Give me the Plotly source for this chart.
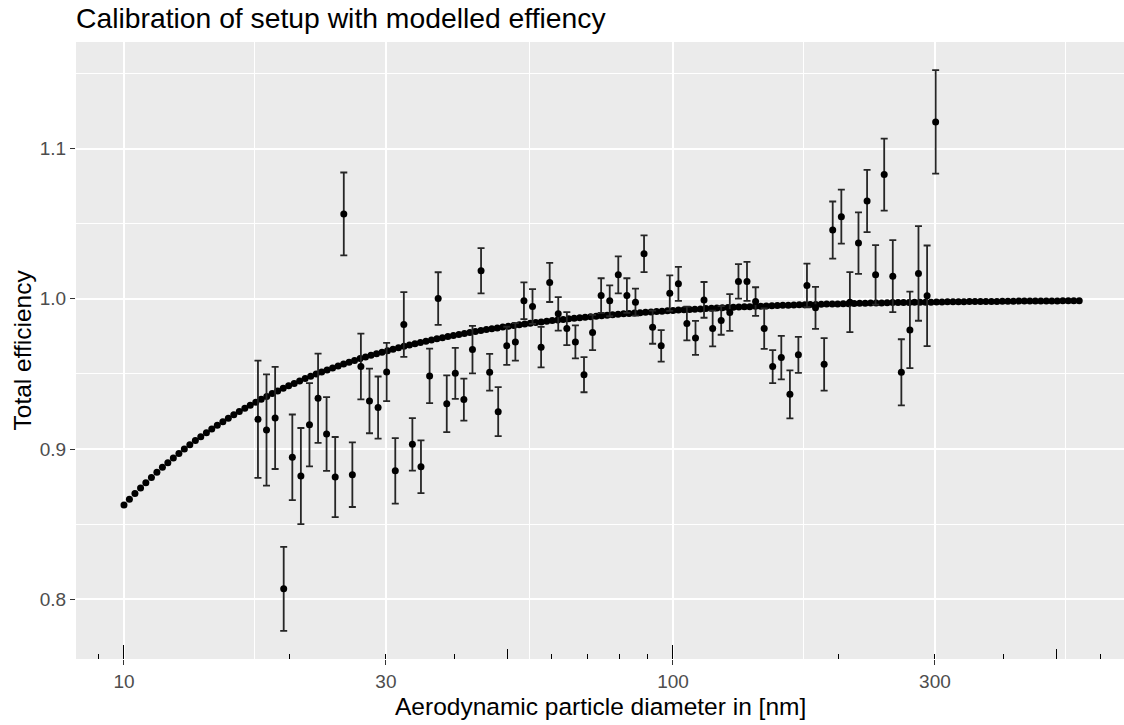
import plotly.graph_objects as go

# ---------------- data ----------------
meas_d = [17.54, 18.18, 18.85, 19.54, 20.26, 21.0, 21.77, 22.57, 23.39, 24.25,
          25.14, 26.06, 27.01, 28.0, 29.03, 30.09, 31.2, 32.34, 33.52, 34.75,
          36.03, 37.35, 38.72, 40.13, 41.6, 43.13, 44.71, 46.35, 48.04, 49.8,
          51.63, 53.52, 55.48, 57.51, 59.62, 61.8, 64.07, 66.41, 68.85, 71.37,
          73.98, 76.69, 79.5, 82.42, 85.44, 88.57, 91.81, 95.17, 98.66, 102.3,
          106.0, 109.9, 113.9, 118.1, 122.4, 126.9, 131.6, 136.4, 141.4, 146.6,
          151.9, 157.5, 163.3, 169.2, 175.4, 181.8, 188.5, 195.4, 202.6, 210.0,
          217.7, 225.7, 233.9, 242.5, 251.4, 260.6, 270.1, 280.0, 290.3, 300.9]

meas_eff = [0.9198, 0.9127, 0.9207, 0.8069, 0.8945, 0.8820, 0.9162, 0.9338, 0.9100, 0.8813,
            1.0565, 0.8829, 0.9549, 0.9320, 0.9276, 0.9513, 0.8855, 0.9829, 0.9031, 0.8882,
            0.9487, 1.0002, 0.9302, 0.9504, 0.9329, 0.9662, 1.0187, 0.9511, 0.9249, 0.9687,
            0.9713, 0.9987, 0.9949, 0.9678, 1.0109, 0.9900, 0.9802, 0.9713, 0.9495, 0.9776,
            1.0022, 0.9987, 1.0160, 1.0022, 0.9978, 1.0300, 0.9811, 0.9687, 1.0038, 1.0100,
            0.9836, 0.9740, 0.9993, 0.9802, 0.9856, 0.9909, 1.0116, 1.0116, 0.9982, 0.9802,
            0.9549, 0.9609, 0.9364, 0.9627, 1.0089, 0.9940, 0.9564, 1.0458, 1.0547, 0.9978,
            1.0371, 1.0651, 1.0160, 1.0827, 1.0151, 0.9511, 0.9793, 1.0169, 1.0020, 1.1178]

meas_err = [0.039, 0.037, 0.034, 0.028, 0.0285, 0.032, 0.0277, 0.0297, 0.0246, 0.0267,
            0.0276, 0.0215, 0.0219, 0.0215, 0.0207, 0.0194, 0.0218, 0.0216, 0.0175, 0.0176,
            0.0181, 0.0175, 0.0189, 0.017, 0.014, 0.0158, 0.015, 0.0122, 0.0163, 0.0127,
            0.0125, 0.0122, 0.0116, 0.0135, 0.013, 0.0112, 0.011, 0.011, 0.0117, 0.0117,
            0.0115, 0.0103, 0.0123, 0.0115, 0.009, 0.0122, 0.011, 0.0105, 0.0118, 0.0113,
            0.0112, 0.0113, 0.0119, 0.0119, 0.0095, 0.0122, 0.0115, 0.013, 0.0095, 0.0135,
            0.011, 0.0145, 0.016, 0.012, 0.0145, 0.014, 0.0175, 0.019, 0.018, 0.02,
            0.0205, 0.0207, 0.0198, 0.024, 0.024, 0.022, 0.0255, 0.0315, 0.0335, 0.0345]

model_d = [10.0, 10.23, 10.47, 10.72, 10.96, 11.22, 11.48, 11.75, 12.02, 12.3,
           12.59, 12.88, 13.18, 13.49, 13.8, 14.13, 14.45, 14.79, 15.14, 15.49,
           15.85, 16.22, 16.6, 16.98, 17.38, 17.78, 18.2, 18.62, 19.05, 19.5,
           19.95, 20.42, 20.89, 21.38, 21.88, 22.39, 22.91, 23.44, 23.99, 24.55,
           25.12, 25.7, 26.3, 26.92, 27.54, 28.18, 28.84, 29.51, 30.2, 30.9,
           31.62, 32.36, 33.11, 33.88, 34.67, 35.48, 36.31, 37.15, 38.02, 38.9,
           39.81, 40.74, 41.69, 42.66, 43.65, 44.67, 45.71, 46.77, 47.86, 48.98,
           50.12, 51.29, 52.48, 53.7, 54.95, 56.23, 57.54, 58.88, 60.26, 61.66,
           63.1, 64.57, 66.07, 67.61, 69.18, 70.79, 72.44, 74.13, 75.86, 77.62,
           79.43, 81.28, 83.18, 85.11, 87.1, 89.13, 91.2, 93.33, 95.5, 97.72,
           100.0, 102.3, 104.7, 107.2, 109.6, 112.2, 114.8, 117.5, 120.2, 123.0,
           125.9, 128.8, 131.8, 134.9, 138.0, 141.3, 144.5, 147.9, 151.4, 154.9,
           158.5, 162.2, 166.0, 169.8, 173.8, 177.8, 182.0, 186.2, 190.5, 195.0,
           199.5, 204.2, 208.9, 213.8, 218.8, 223.9, 229.1, 234.4, 239.9, 245.5,
           251.2, 257.0, 263.0, 269.2, 275.4, 281.8, 288.4, 295.1, 302.0, 309.0,
           316.2, 323.6, 331.1, 338.8, 346.7, 354.8, 363.1, 371.5, 380.2, 389.0,
           398.1, 407.4, 416.9, 426.6, 436.5, 446.7, 457.1, 467.7, 478.6, 489.8,
           501.2, 512.9, 524.8, 537.0, 549.5]

model_eff = [0.8627, 0.8666, 0.8704, 0.8741, 0.8776, 0.8811, 0.8845, 0.8878,
             0.8909, 0.8940, 0.8970, 0.9000, 0.9028, 0.9056, 0.9082, 0.9108,
             0.9134, 0.9158, 0.9182, 0.9205, 0.9228, 0.9250, 0.9271, 0.9292,
             0.9312, 0.9331, 0.9350, 0.9369, 0.9387, 0.9404, 0.9421, 0.9437,
             0.9453, 0.9469, 0.9484, 0.9499, 0.9513, 0.9527, 0.9540, 0.9553,
             0.9566, 0.9578, 0.9590, 0.9602, 0.9613, 0.9624, 0.9635, 0.9645,
             0.9655, 0.9665, 0.9674, 0.9684, 0.9693, 0.9701, 0.9710, 0.9718,
             0.9726, 0.9734, 0.9741, 0.9749, 0.9756, 0.9763, 0.9769, 0.9776,
             0.9782, 0.9789, 0.9795, 0.9800, 0.9806, 0.9812, 0.9817, 0.9822,
             0.9827, 0.9832, 0.9837, 0.9842, 0.9846, 0.9850, 0.9855, 0.9859,
             0.9863, 0.9867, 0.9870, 0.9874, 0.9878, 0.9881, 0.9884, 0.9888,
             0.9891, 0.9894, 0.9897, 0.9900, 0.9903, 0.9906, 0.9908, 0.9911,
             0.9913, 0.9916, 0.9918, 0.9921, 0.9923, 0.9925, 0.9927, 0.9929,
             0.9931, 0.9933, 0.9935, 0.9937, 0.9939, 0.9940, 0.9942, 0.9944,
             0.9945, 0.9947, 0.9948, 0.9950, 0.9951, 0.9953, 0.9954, 0.9955,
             0.9957, 0.9958, 0.9959, 0.9960, 0.9961, 0.9962, 0.9963, 0.9964,
             0.9965, 0.9966, 0.9966, 0.9967, 0.9968, 0.9969, 0.9970, 0.9971,
             0.9972, 0.9972, 0.9973, 0.9974, 0.9975, 0.9975, 0.9976, 0.9976,
             0.9977, 0.9977, 0.9978, 0.9978, 0.9979, 0.9979, 0.9980, 0.9980,
             0.9981, 0.9981, 0.9982, 0.9982, 0.9982, 0.9983, 0.9983, 0.9983,
             0.9984, 0.9984, 0.9984, 0.9985, 0.9985, 0.9985, 0.9985, 0.9986,
             0.9986, 0.9986, 0.9986, 0.9987, 0.9987, 0.9987, 0.9987]

x_ticks = [10, 30, 100, 300]
x_tick_text = ["10", "30", "100", "300"]
x_minor_grid = [17.32, 54.77, 173.2, 519.6]
y_ticks = [0.8, 0.9, 1.0, 1.1]
y_tick_text = ["0.8", "0.9", "1.0", "1.1"]
y_minor_grid = [0.85, 0.95, 1.05, 1.15]
logtick_long = [10, 100]
logtick_mid = [50, 500]
logtick_short = [9, 20, 30, 40, 60, 70, 80, 90, 200, 300, 400, 600]

title_text = "Calibration of setup with modelled effiency"
x_title = "Aerodynamic particle diameter in [nm]"
y_title = "Total efficiency"

# ---------------- figure ----------------
FONT = "Liberation Sans, Arial, sans-serif"
X_RANGE = [0.9126, 2.8215]
Y_RANGE = [0.7602, 1.1710]

fig = go.Figure()

fig.add_trace(go.Scatter(
    x=model_d, y=model_eff, mode="markers",
    marker=dict(color="black", size=7, line=dict(width=0)),
    hoverinfo="skip", showlegend=False))

fig.add_trace(go.Scatter(
    x=meas_d, y=meas_eff, mode="markers",
    marker=dict(color="black", size=7, line=dict(width=0)),
    error_y=dict(type="data", array=meas_err, color="#262626",
                 thickness=1.8, width=3.5),
    hoverinfo="skip", showlegend=False))

# invisible helper traces so the log-tick overlay axes are drawn
for ax in ("x2", "x3"):
    fig.add_trace(go.Scatter(x=[model_d[0]], y=[model_eff[0]], xaxis=ax,
                             mode="markers", marker=dict(opacity=0),
                             hoverinfo="skip", showlegend=False))

fig.update_layout(
    width=1124, height=725,
    margin=dict(l=76, r=0, t=42, b=66),
    paper_bgcolor="white",
    plot_bgcolor="#EBEBEB",
    font=dict(family=FONT, color="black"),
    title=dict(text=title_text, x=0, xref="paper", xanchor="left",
               y=(725 - 18) / 725, yref="container", yanchor="middle",
               font=dict(size=28.3, family=FONT, color="black")),
    xaxis=dict(type="log", range=X_RANGE,
               tickmode="array", tickvals=x_ticks, ticktext=x_tick_text,
               ticks="outside", ticklen=5, tickwidth=1.1, tickcolor="#333333",
               tickfont=dict(size=19, color="#4D4D4D", family=FONT),
               showgrid=True, gridcolor="white", gridwidth=1.6,
               minor=dict(tickmode="array", tickvals=x_minor_grid,
                          showgrid=True, gridcolor="white", gridwidth=0.8,
                          ticks=""),
               zeroline=False, showline=False, fixedrange=True),
    xaxis2=dict(type="log", range=X_RANGE, overlaying="x", anchor="y",
                side="bottom", tickmode="array", tickvals=logtick_long,
                ticks="inside", ticklen=14, tickwidth=1, tickcolor="black",
                showticklabels=False, showgrid=False, zeroline=False,
                showline=False,
                minor=dict(tickmode="array", tickvals=logtick_short,
                           ticks="inside", ticklen=5, tickwidth=1,
                           tickcolor="black", showgrid=False)),
    xaxis3=dict(type="log", range=X_RANGE, overlaying="x", anchor="y",
                side="bottom", tickmode="array", tickvals=logtick_mid,
                ticks="inside", ticklen=10, tickwidth=1, tickcolor="black",
                showticklabels=False, showgrid=False, zeroline=False,
                showline=False),
    yaxis=dict(range=Y_RANGE,
               tickmode="array", tickvals=y_ticks, ticktext=y_tick_text,
               ticks="outside", ticklen=5, tickwidth=1.1, tickcolor="#333333",
               tickfont=dict(size=19, color="#4D4D4D", family=FONT),
               showgrid=True, gridcolor="white", gridwidth=1.6,
               minor=dict(tickmode="array", tickvals=y_minor_grid,
                          showgrid=True, gridcolor="white", gridwidth=0.8,
                          ticks=""),
               zeroline=False, showline=False, fixedrange=True),
    annotations=[
        dict(text=x_title, x=0.5, y=0, xref="paper", yref="paper",
             xanchor="center", yanchor="middle", yshift=-47, showarrow=False,
             font=dict(size=24.5, family=FONT, color="black")),
        dict(text=y_title, x=0, y=0.5, xref="paper", yref="paper",
             xanchor="center", yanchor="middle", xshift=-54, textangle=-90,
             showarrow=False, font=dict(size=24.5, family=FONT, color="black")),
    ],
)

fig.write_html("out.html")
